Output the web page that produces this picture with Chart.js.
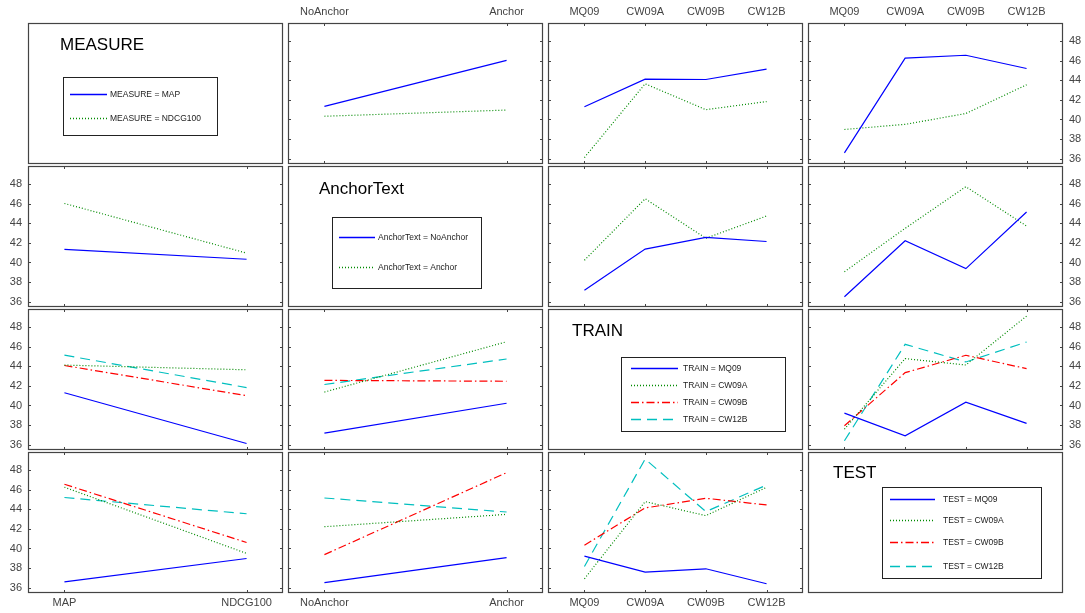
<!DOCTYPE html>
<html>
<head>
<meta charset="utf-8">
<script src="https://cdn.jsdelivr.net/npm/chart.js@4/dist/chart.umd.min.js"></script>
<style>
  body { margin: 0; background: #fff; }
  #page { position: relative; width: 1085px; height: 613px; overflow: hidden; }
  #page canvas { position: absolute; }
</style>
</head>
<body>
<div id="page"></div>
<script>
// factor names and their levels (tick labels)
const factorNames = ['MEASURE', 'AnchorText', 'TRAIN', 'TEST'];
const measureLevels = ['MAP', 'NDCG100'];
const anchorLevels = ['NoAnchor', 'Anchor'];
const trainLevels = ['MQ09', 'CW09A', 'CW09B', 'CW12B'];
const testLevels = ['MQ09', 'CW09A', 'CW09B', 'CW12B'];
const yTicks = [36, 38, 40, 42, 44, 46, 48];

// two-way cell means
const mapByAnchor = [41.33, 46.02];
const ndcgByAnchor = [40.33, 40.96];
const mapByTrain = [41.3, 44.12, 44.08, 45.13];
const ndcgByTrain = [36.12, 43.64, 41.0, 41.83];
const mapByTest = [36.6, 46.25, 46.55, 45.2];
const ndcgByTest = [38.98, 39.5, 40.61, 43.54];
const noAnchorByTrain = [37.18, 41.37, 42.56, 42.14];
const anchorByTrain = [40.23, 46.5, 42.47, 44.74];
const noAnchorByTest = [36.51, 42.22, 39.37, 45.15];
const anchorByTest = [39.06, 43.48, 47.73, 43.72];
const mq09ByTest = [39.22, 36.91, 40.34, 38.17];
const cw09aByTest = [37.59, 44.78, 44.13, 49.12];
const cw09bByTest = [37.93, 43.35, 45.12, 43.76];
const cw12bByTest = [36.4, 46.24, 44.44, 46.47];

const factorLevels = [measureLevels, anchorLevels, trainLevels, testLevels];
const tables = {
    '0-1': [mapByAnchor, ndcgByAnchor],
    '0-2': [mapByTrain, ndcgByTrain],
    '0-3': [mapByTest, ndcgByTest],
    '1-2': [noAnchorByTrain, anchorByTrain],
    '1-3': [noAnchorByTest, anchorByTest],
    '2-3': [mq09ByTest, cw09aByTest, cw09bByTest, cw12bByTest]
};

// line styles by level index
const lineStyles = [
    { color: '#0000ff', dash: [] },
    { color: '#008a00', dash: [1, 2] },
    { color: '#ff0000', dash: [8, 3, 1.5, 3] },
    { color: '#00bfbf', dash: [10, 6] }
];

// layout
const MARGIN = 30;
const colLeft = [28, 288, 548, 808];
const rowTop = [23, 166, 309, 452];
const PANEL_W = 255;
const PANEL_H = 141;
const Y_MIN = 35.46;
const Y_MAX = 49.84;
const FONT = '"Liberation Sans", Arial, sans-serif';

// legend placement inside the diagonal panels (relative to panel corner)
const diagLayout = [
    { titleX: 32, titleY: 27, box: [35, 54, 189, 112], itemY: [71, 95], lineX: [42, 79], textX: 82 },
    { titleX: 31, titleY: 28, box: [44, 51, 193, 122], itemY: [71, 101], lineX: [51, 87], textX: 90 },
    { titleX: 24, titleY: 27, box: [73, 48, 237, 122], itemY: [59, 76, 93, 110], lineX: [83, 130], textX: 135 },
    { titleX: 25, titleY: 26, box: [74, 35, 233, 126], itemY: [47, 68, 90, 114], lineX: [82, 127], textX: 135 }
];

function seriesFor(i, j) {
    if (i < j) return tables[i + '-' + j];
    const t = tables[j + '-' + i];
    return t[0].map((_, k) => t.map(row => row[k]));
}

const panelFrame = {
    id: 'panelFrame',
    afterDatasetsDraw(chart, args, opts) {
        const ctx = chart.ctx;
        const ca = chart.chartArea;
        ctx.save();
        ctx.strokeStyle = '#444';
        ctx.lineWidth = 1.2;
        ctx.strokeRect(ca.left + 0.5, ca.top + 0.5, ca.right - ca.left - 1, ca.bottom - ca.top - 1);

        if (opts.diag) {
            const d = opts.diag;
            const L = ca.left, T = ca.top;
            ctx.fillStyle = '#000';
            ctx.font = '17px ' + FONT;
            ctx.textBaseline = 'alphabetic';
            ctx.fillText(d.title, L + d.titleX, T + d.titleY);
            ctx.strokeStyle = '#222';
            ctx.lineWidth = 1;
            ctx.strokeRect(L + d.box[0] + 0.5, T + d.box[1] + 0.5, d.box[2] - d.box[0], d.box[3] - d.box[1]);
            ctx.font = '8.5px ' + FONT;
            ctx.textBaseline = 'middle';
            chart.data.datasets.forEach((ds, k) => {
                const y = T + d.itemY[k] + 0.5;
                ctx.beginPath();
                ctx.setLineDash(ds.borderDash);
                ctx.strokeStyle = ds.borderColor;
                ctx.lineWidth = 1.3;
                ctx.moveTo(L + d.lineX[0], y);
                ctx.lineTo(L + d.lineX[1], y);
                ctx.stroke();
                ctx.setLineDash([]);
                ctx.fillStyle = '#222';
                ctx.fillText(ds.label, L + d.textX, y);
            });
            ctx.restore();
            return;
        }

        const xs = chart.scales.x, ys = chart.scales.y;
        ctx.lineWidth = 1;
        ctx.beginPath();
        opts.xLabels.forEach((_, k) => {
            const px = Math.round(xs.getPixelForValue(k)) + 0.5;
            ctx.moveTo(px, ca.top); ctx.lineTo(px, ca.top + 3);
            ctx.moveTo(px, ca.bottom); ctx.lineTo(px, ca.bottom - 3);
        });
        yTicks.forEach(v => {
            const py = Math.round(ys.getPixelForValue(v)) + 0.5;
            ctx.moveTo(ca.left, py); ctx.lineTo(ca.left + 3, py);
            ctx.moveTo(ca.right, py); ctx.lineTo(ca.right - 3, py);
        });
        ctx.stroke();

        ctx.fillStyle = '#444';
        ctx.font = '11px ' + FONT;
        if (opts.top || opts.bottom) {
            ctx.textAlign = 'center';
            ctx.textBaseline = 'middle';
            opts.xLabels.forEach((lab, k) => {
                const px = xs.getPixelForValue(k);
                if (opts.top) ctx.fillText(lab, px, ca.top - 11);
                if (opts.bottom) ctx.fillText(lab, px, ca.bottom + 10);
            });
        }
        if (opts.left || opts.right) {
            ctx.textBaseline = 'middle';
            yTicks.forEach(v => {
                const py = ys.getPixelForValue(v);
                if (opts.left) { ctx.textAlign = 'right'; ctx.fillText(String(v), ca.left - 6, py); }
                if (opts.right) { ctx.textAlign = 'left'; ctx.fillText(String(v), ca.right + 6, py); }
            });
        }
        ctx.restore();
    }
};

function makePanel(i, j) {
    const canvas = document.createElement('canvas');
    canvas.width = PANEL_W + 2 * MARGIN;
    canvas.height = PANEL_H + 2 * MARGIN;
    canvas.style.left = (colLeft[j] - MARGIN) + 'px';
    canvas.style.top = (rowTop[i] - MARGIN) + 'px';
    document.getElementById('page').appendChild(canvas);

    const nx = factorLevels[j].length;
    const pad = nx === 2 ? 0.2 : 0.6;
    let datasets, frameOpts;

    if (i === j) {
        datasets = factorLevels[i].map((lev, k) => ({
            label: factorNames[i] + ' = ' + lev,
            data: [],
            borderColor: lineStyles[k].color,
            borderDash: lineStyles[k].dash
        }));
        frameOpts = { diag: Object.assign({ title: factorNames[i] }, diagLayout[i]) };
    } else {
        datasets = seriesFor(i, j).map((vals, k) => ({
            label: factorNames[i] + ' = ' + factorLevels[i][k],
            data: vals.map((v, x) => ({ x: x, y: v })),
            borderColor: lineStyles[k].color,
            borderDash: lineStyles[k].dash,
            borderWidth: 1.2,
            pointRadius: 0,
            tension: 0
        }));
        frameOpts = {
            xLabels: factorLevels[j],
            top: i === 0,
            bottom: i === 3,
            left: j === 0,
            right: j === 3
        };
    }

    new Chart(canvas, {
        type: 'line',
        data: { datasets: datasets },
        options: {
            responsive: false,
            animation: false,
            events: [],
            layout: { padding: MARGIN },
            plugins: {
                legend: { display: false },
                tooltip: { enabled: false },
                panelFrame: frameOpts
            },
            scales: {
                x: { type: 'linear', display: false, min: -pad, max: nx - 1 + pad },
                y: { type: 'linear', display: false, min: Y_MIN, max: Y_MAX }
            }
        },
        plugins: [panelFrame]
    });
}

for (let i = 0; i < 4; i++) {
    for (let j = 0; j < 4; j++) {
        makePanel(i, j);
    }
}
</script>
</body>
</html>
